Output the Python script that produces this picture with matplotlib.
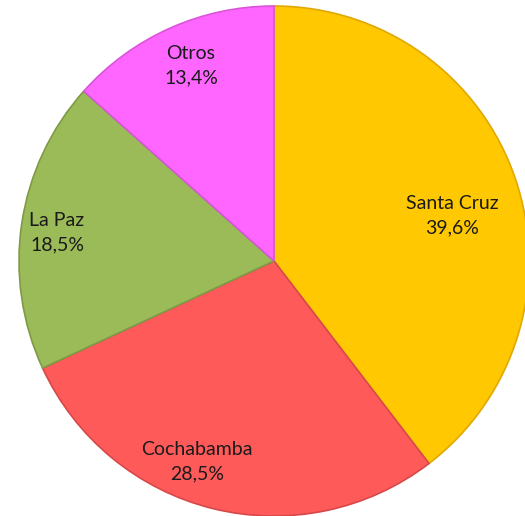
import matplotlib.pyplot as plt

regiones = ['Santa Cruz', 'Cochabamba', 'La Paz', 'Otros']
porcentajes = [39.6, 28.5, 18.5, 13.4]
colores = ['#FFC800', '#FF5A5A', '#9BBB59', '#FF66FF']
bordes = ['#E0A800', '#D84848', '#7F9A45', '#D955D9']

# label positions in pixels (x, y from top)
pos_etiquetas = [(452, 216), (197, 462), (57, 233), (191, 66)]

plt.rcParams['font.family'] = ['Lato', 'DejaVu Sans']

W, H = 525, 516
fig = plt.figure(figsize=(W / 100, H / 100), dpi=100)
ax = fig.add_axes([0, 0, 1, 1])

cx, cy, r = 274, 261, 255
wedges, _ = ax.pie(porcentajes, colors=colores, startangle=90, counterclock=False,
                   center=(cx, H - cy), radius=r,
                   wedgeprops=dict(linewidth=1.2))
for w, b in zip(wedges, bordes):
    w.set_edgecolor(b)

for nombre, p, (x, y) in zip(regiones, porcentajes, pos_etiquetas):
    txt = f'{nombre}\n{p:.1f}%'.replace('.', ',')
    ax.text(x, H - y, txt, ha='center', va='center', fontsize=14,
            color='#1a1a1a', linespacing=1.55)

ax.set_xlim(0, W)
ax.set_ylim(0, H)
ax.set_aspect('equal')
ax.axis('off')

fig.savefig('out.png', dpi=100, facecolor='white')
